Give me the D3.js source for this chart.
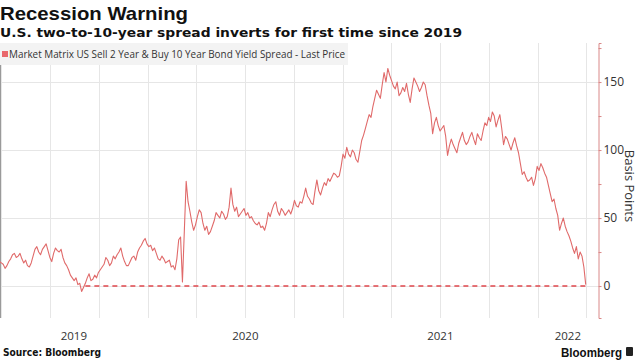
<!DOCTYPE html>
<html><head><meta charset="utf-8">
<script src="https://cdn.jsdelivr.net/npm/d3@7"></script>
<style>body{margin:0;background:#fff;} svg{display:block;}</style>
</head><body><svg id="c" width="640" height="360"></svg>
<script>
// ---- data ----
const startDate = "2019-03-29";          // first observation, then every 3.5 days
const spreadValues = [
  18,17, 16,13, 15,18, 20,23, 24,21, 22,24, 20,17, 19,15, 14,17, 22,27,
  29,25, 23,27, 29,31, 26,21, 18,24, 28,26, 25,27, 21,17, 15,12, 8,6,
  4,6, 1,2, -4,-1, 2,6, 9,4, 5,8, 6,10, 12,14, 16,21, 19,15,
  17,22, 20,23, 25,28, 22,18, 15,15, 18,21, 22,19, 25,28, 30,33, 35,31,
  29,30, 26,28, 24,20, 19,22, 20,17, 18,19, 14,15, 12,20, 34,36, 3,40,
  77,62, 55,47, 41,45, 51,56, 54,46, 41,44, 38,40, 44,48, 54,52, 50,55,
  53,49, 51,58, 72,60, 55,58, 51,53, 55,57, 52,54, 50,51, 48,46, 45,47,
  43,44, 41,46, 54,51, 56,60, 62,55, 52,57, 55,52, 54,56, 53,57, 63,59,
  58,62, 61,66, 72,66, 64,61, 60,70, 78,70, 67,72, 76,74, 79,77, 80,83,
  82,80, 81,88, 97,94, 102,97, 95,100, 98,93, 91,99, 107,111, 116,121, 126,124,
  132,138, 144,141, 138,148, 157,150, 160,155, 151,147, 145,150, 140,142, 146,143, 149,141,
  135,145, 153,150, 147,143, 146,150, 148,140, 133,127, 112,120, 124,118, 114,116, 118,110,
  96,103, 108,104, 101,98, 105,109, 113,107, 104,106, 110,113, 108,104, 112,109, 107,114,
  120,118, 124,121, 128,125, 117,122, 126,116, 104,110, 108,104, 100,105, 109,103, 98,90,
  82,84, 80,77, 78,80, 74,79, 88,85, 90,87, 83,80, 74,68, 62,64, 57,52,
  41,46, 50,44, 40,37, 33,28, 24,29, 20,25, 22,14, 1
];
const yTicks = [0, 50, 100, 150];
const yMinorTicks = [25, 75, 125, 175];
const xDomain = ["2019-03-30", "2022-04-24"];
const inversionStart = "2019-09-06";
const title = "Recession Warning";
const subtitle = "U.S. two-to-10-year spread inverts for first time since 2019";
const legendLabel = "Market Matrix US Sell 2 Year & Buy 10 Year Bond Yield Spread - Last Price";
const yAxisTitle = "Basis Points";
const sourceText = "Source: Bloomberg";
const brandText = "Bloomberg";

// ---- build ----
const parse = d3.timeParse("%Y-%m-%d");
const start = parse(startDate);
const data = spreadValues.map((v, i) => ({date: new Date(start.getTime() + i * 3.5 * 864e5), value: v}));

const svg = d3.select("#c");
const plot = {left: 0, right: 598, top: 43, bottom: 318};

const x = d3.scaleTime().domain(xDomain.map(parse)).range([plot.left, plot.right]);
const y = d3.scaleLinear().domain([-23.5, 178.7]).range([plot.bottom, plot.top]);

svg.append("defs").append("clipPath").attr("id", "clip")
  .append("rect").attr("x", plot.left).attr("y", plot.top)
  .attr("width", plot.right - plot.left).attr("height", plot.bottom - plot.top);

// vertical quarterly gridlines
const quarters = d3.timeMonth.every(3).range(x.domain()[0], x.domain()[1]);
svg.append("g").selectAll("line").data(quarters).join("line")
  .attr("x1", d => Math.round(x(d)) + 0.5).attr("x2", d => Math.round(x(d)) + 0.5)
  .attr("y1", plot.top).attr("y2", plot.bottom)
  .attr("stroke", "#e6e6e6").attr("stroke-width", 1);

// horizontal gridlines
svg.append("g").selectAll("line").data(yTicks).join("line")
  .attr("x1", plot.left).attr("x2", plot.right)
  .attr("y1", d => Math.round(y(d)) + 0.5).attr("y2", d => Math.round(y(d)) + 0.5)
  .attr("stroke", "#e6e6e6").attr("stroke-width", 1);

// legend box
svg.append("rect").attr("x", 0).attr("y", 43).attr("width", 348).attr("height", 22).attr("fill", "#f3f3f3");
svg.append("rect").attr("x", 2).attr("y", 51).attr("width", 6).attr("height", 6).attr("fill", "#e9686b");
svg.append("text").attr("x", 9).attr("y", 57.5)
  .attr("font-family", "Open Sans, sans-serif").attr("font-size", 10).attr("fill", "#333")
  .attr("textLength", 336).attr("lengthAdjust", "spacingAndGlyphs")
  .text(legendLabel);

// left border
svg.append("line").attr("x1", 0.5).attr("x2", 0.5).attr("y1", 65).attr("y2", plot.bottom)
  .attr("stroke", "#9a9a9a").attr("stroke-width", 1);

// dashed zero annotation
svg.append("line")
  .attr("x1", x(parse(inversionStart))).attr("x2", x(data[data.length - 1].date))
  .attr("y1", y(0)).attr("y2", y(0))
  .attr("stroke", "#e0474c").attr("stroke-width", 1.5).attr("stroke-dasharray", "5,4");

// series line
const line = d3.line().x(d => x(d.date)).y(d => y(d.value));
svg.append("path").datum(data).attr("clip-path", "url(#clip)")
  .attr("d", line).attr("fill", "none")
  .attr("stroke", "#e06a6a").attr("stroke-width", 1.1).attr("stroke-linejoin", "round");

// right axis
const yAxis = svg.append("g").attr("transform", `translate(${plot.right + 0.5},0)`)
  .call(d3.axisRight(y).tickValues(yTicks).tickSize(3).tickPadding(2).tickFormat(d3.format("d")));
yAxis.select(".domain").attr("stroke", "#d98888");
yAxis.selectAll(".tick line").attr("stroke", "#d98888");
yAxis.selectAll(".tick text").attr("font-family", "Open Sans, sans-serif").attr("font-size", 12).attr("fill", "#333");
const yMinor = svg.append("g").attr("transform", `translate(${plot.right + 0.5},0)`)
  .call(d3.axisRight(y).tickValues(yMinorTicks).tickSize(3).tickFormat(""));
yMinor.select(".domain").remove();
yMinor.selectAll(".tick line").attr("stroke", "#d98888");

svg.append("text").attr("transform", "translate(625,186) rotate(90)")
  .attr("text-anchor", "middle").attr("font-family", "Open Sans, sans-serif")
  .attr("font-size", 13).attr("fill", "#333").text(yAxisTitle);

// year labels centred in visible part of each year
const years = d3.timeYear.range(d3.timeYear.floor(x.domain()[0]), x.domain()[1]);
svg.append("g").selectAll("text").data(years).join("text")
  .attr("x", d => {
    const a = Math.max(x(d), plot.left), b = Math.min(x(d3.timeYear.offset(d, 1)), plot.right);
    return (a + b) / 2;
  })
  .attr("y", 340).attr("text-anchor", "middle")
  .attr("font-family", "Open Sans, sans-serif").attr("font-size", 11.5).attr("fill", "#333")
  .text(d3.timeFormat("%Y"));

// titles
svg.append("text").attr("x", 0).attr("y", 20)
  .attr("font-family", "Liberation Sans, Arial, sans-serif").attr("font-weight", "bold")
  .attr("font-size", 19).attr("fill", "#111")
  .attr("textLength", 188).attr("lengthAdjust", "spacingAndGlyphs").text(title);
svg.append("text").attr("x", 0).attr("y", 36.5)
  .attr("font-family", "DejaVu Sans, sans-serif").attr("font-weight", "bold")
  .attr("font-size", 13).attr("fill", "#111")
  .attr("textLength", 462).attr("lengthAdjust", "spacingAndGlyphs").text(subtitle);

// footer
svg.append("text").attr("x", 3).attr("y", 356)
  .attr("font-family", "DejaVu Sans, sans-serif").attr("font-weight", "bold")
  .attr("font-size", 10).attr("fill", "#111")
  .attr("textLength", 98).attr("lengthAdjust", "spacingAndGlyphs").text(sourceText);
svg.append("text").attr("x", 561).attr("y", 356.5)
  .attr("font-family", "Liberation Sans, Arial, sans-serif").attr("font-weight", "bold")
  .attr("font-size", 13).attr("fill", "#111")
  .attr("textLength", 61).attr("lengthAdjust", "spacingAndGlyphs").text(brandText);
svg.append("rect").attr("x", 626).attr("y", 347).attr("width", 7).attr("height", 9).attr("rx", 1).attr("fill", "#222");
</script></body></html>
